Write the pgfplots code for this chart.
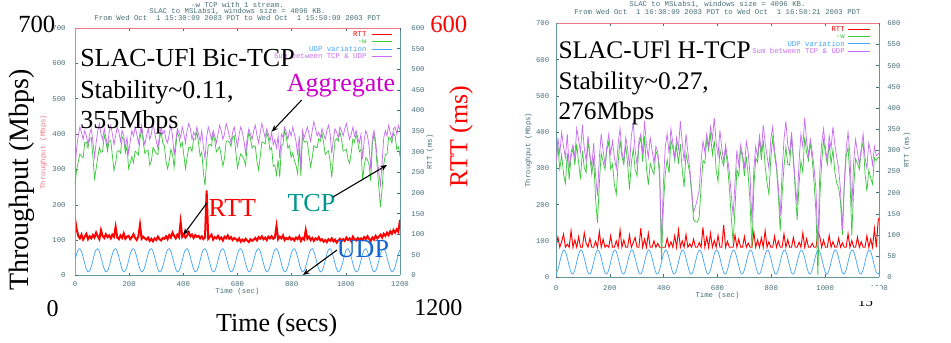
\documentclass[border=0pt]{standalone}
\usepackage{pgfplots}
\pgfplotsset{compat=1.18}
\usepackage{pgfplotstable}
\usepackage{fontspec}
\setmainfont{Liberation Serif}
\newfontfamily\gpmono{Liberation Mono}
\usetikzlibrary{arrows.meta}

\definecolor{gptxt}{RGB}{70,110,118}
\definecolor{gpframe}{RGB}{100,150,160}
\definecolor{gppink}{RGB}{235,120,130}
\definecolor{gpred}{RGB}{255,0,0}
\definecolor{gpgreen}{RGB}{60,200,60}
\definecolor{gpblue}{RGB}{70,165,245}
\definecolor{gpviolet}{RGB}{200,110,240}
\definecolor{annmag}{RGB}{204,0,204}
\definecolor{annteal}{RGB}{0,150,140}
\definecolor{annblue}{RGB}{20,100,210}

\newcommand\pp[2]{({(#1)*0.75pt},{(343-(#2))*0.75pt})}
\newcommand\gpfont{\gpmono\fontsize{5.5}{6}\selectfont}

\pgfplotstableread{
t udp tcp agg rtt
0 43 257 300 138
6 61 299 360 112
12 73 322 395 96
18 76 344 420 90
24 68 337 405 99
30 52 333 385 87
36 34 376 410 94
42 18 377 395 101
48 10 360 370 88
54 13 387 400 95
60 25 390 415 90
66 43 337 380 98
72 61 274 335 92
78 73 302 375 104
84 76 334 410 95
90 68 362 430 88
96 52 348 400 110
102 34 351 385 96
108 18 397 415 91
114 10 380 390 100
120 13 352 365 93
126 25 380 405 97
132 43 382 425 90
138 61 339 400 99
144 73 297 370 94
150 76 319 395 118
156 68 352 420 92
162 52 353 405 88
168 34 346 380 97
174 18 392 410 91
180 10 385 395 102
186 13 347 360 89
192 25 365 390 94
198 43 302 345 96
204 61 319 380 88
210 73 337 410 93
216 76 319 395 100
222 68 352 420 91
228 52 348 400 86
234 34 341 375 95
240 18 387 405 123
246 10 415 425 89
252 13 377 390 94
258 25 345 370 90
264 43 352 395 87
270 61 354 415 92
276 73 312 385 84
282 76 324 400 89
288 68 362 430 83
294 52 353 405 90
300 34 346 380 86
306 18 342 360 94
312 10 385 395 88
318 13 407 420 85
324 25 375 400 91
330 43 367 410 89
336 61 324 385 95
342 73 302 375 88
348 76 324 400 98
354 68 357 425 92
360 52 343 395 104
366 34 306 340 96
372 18 362 380 90
378 10 405 415 99
384 13 392 405 93
390 25 365 390 130
396 43 377 420 94
402 61 339 400 100
408 73 302 375 92
414 76 334 410 97
420 68 362 430 105
426 52 363 415 95
432 34 351 385 99
438 18 387 405 91
444 10 385 395 98
450 13 407 420 94
456 25 375 400 96
462 43 337 380 90
468 61 349 410 95
474 73 292 365 88
480 76 254 330 92
486 68 322 390 206
492 52 368 420 89
498 34 371 405 94
504 18 367 385 99
510 10 400 410 87
516 13 382 395 93
522 25 350 375 90
528 43 357 400 96
534 61 364 425 88
540 73 337 410 92
546 76 309 385 85
552 68 332 400 94
558 52 378 430 90
564 34 381 415 97
570 18 377 395 89
576 10 365 375 93
582 13 392 405 86
588 25 395 420 91
594 43 347 390 88
600 61 304 365 84
606 73 327 400 90
612 76 344 420 82
618 68 337 405 87
624 52 328 380 83
630 34 311 345 89
636 18 372 390 85
642 10 405 415 81
648 13 387 400 88
654 25 360 385 84
660 43 367 410 87
666 61 364 425 91
672 73 322 395 85
678 76 299 375 93
684 68 337 405 89
690 52 378 430 95
696 34 376 410 88
702 18 372 390 92
708 10 405 415 86
714 13 387 400 94
720 25 355 380 90
726 43 362 405 95
732 61 309 370 89
738 73 312 385 92
744 76 284 360 120
750 68 327 395 88
756 52 278 330 94
762 34 366 400 90
768 18 372 390 97
774 10 410 420 86
780 13 392 405 91
786 25 360 385 88
792 43 367 410 93
798 61 334 395 87
804 73 347 420 90
810 76 324 400 85
816 68 312 380 92
822 52 288 340 88
828 34 361 395 95
834 18 282 300 84
840 10 400 410 91
846 13 377 390 87
852 25 380 405 110
858 43 377 420 89
864 61 339 400 94
870 73 307 380 86
876 76 334 410 91
882 68 367 435 84
888 52 363 415 90
894 34 361 395 87
900 18 387 405 93
906 10 380 390 85
912 13 402 415 88
918 25 375 400 82
924 43 342 385 86
930 61 349 410 81
936 73 352 425 88
942 76 324 400 84
948 68 277 345 90
954 52 333 385 83
960 34 381 415 87
966 18 387 405 80
972 10 380 390 85
978 13 407 420 89
984 25 385 410 83
990 43 352 395 88
996 61 354 415 84
1002 73 357 430 92
1008 76 329 405 86
1014 68 317 385 90
1020 52 348 400 83
1026 34 386 420 94
1032 18 377 395 88
1038 10 400 410 85
1044 13 377 390 91
1050 25 350 375 87
1056 43 357 400 90
1062 61 269 330 86
1068 73 312 385 93
1074 76 334 410 88
1080 68 327 395 95
1086 52 313 365 89
1092 34 266 300 84
1098 18 372 390 92
1104 10 400 410 87
1110 13 367 380 96
1116 25 305 330 90
1122 43 247 290 94
1128 61 194 255 99
1134 73 247 320 92
1140 76 314 390 101
1146 68 342 410 96
1152 52 343 395 104
1158 34 391 425 98
1164 18 387 405 107
1170 10 375 385 101
1176 13 402 415 110
1182 25 395 420 104
1188 43 357 400 112
1194 61 364 425 106
1200 73 337 410 135
}\leftdata

\pgfplotstableread{
t udp tcp agg rtt
0 9 301 310 71
7 21 364 385 95
14 42 298 340 71
21 63 337 400 84
28 75 285 360 102
35 71 259 330 71
42 53 342 395 78
49 31 269 300 71
56 13 332 345 110
63 9 356 365 71
70 21 309 330 88
77 42 368 410 71
84 63 317 380 96
91 75 270 345 71
98 71 349 420 71
105 53 302 355 105
112 31 289 320 80
119 13 377 390 71
126 9 331 340 92
133 21 284 305 71
140 42 328 370 71
147 63 217 280 85
154 75 150 225 71
161 71 259 330 108
168 53 342 395 71
175 31 319 350 90
182 13 297 310 71
189 9 351 360 76
196 21 374 395 71
203 42 298 340 98
210 63 312 375 71
217 75 255 330 71
224 71 229 300 86
231 53 317 370 71
238 31 379 410 112
245 13 332 345 71
252 9 311 320 88
259 21 364 385 71
266 42 313 355 71
273 63 242 305 100
280 75 315 390 71
287 71 354 425 82
294 53 297 350 94
301 31 279 310 71
308 13 362 375 71
315 9 386 395 116
322 21 319 340 71
329 42 388 430 90
336 63 302 365 71
343 75 255 330 104
350 71 314 385 71
357 53 297 350 71
364 31 284 315 86
371 13 347 360 71
378 9 336 345 80
385 21 279 300 71
392 42 48 90 71
399 63 197 260 71
406 75 285 360 71
413 71 324 395 92
420 53 287 340 71
427 31 379 410 84
434 13 357 370 71
441 9 321 330 98
448 21 364 385 71
455 42 313 355 112
462 63 367 430 71
469 75 295 370 86
476 71 249 320 71
483 53 342 395 101
490 31 314 345 71
497 13 287 300 79
504 9 231 240 71
511 21 159 180 90
518 42 153 195 71
525 63 152 215 71
532 75 165 240 82
539 71 249 320 71
546 53 322 375 118
553 31 314 345 71
560 13 382 395 95
567 9 351 360 71
574 21 394 415 104
581 42 338 380 71
588 63 377 440 87
595 75 295 370 71
602 71 264 335 99
609 53 352 405 71
616 31 324 355 71
623 13 307 320 124
630 9 356 365 71
637 21 309 330 85
644 42 248 290 71
651 63 167 230 71
658 75 95 170 71
665 71 189 260 100
672 53 297 350 71
679 31 279 310 90
686 13 352 365 71
693 9 331 340 71
700 21 279 300 96
707 42 333 375 71
714 63 282 345 81
721 75 205 280 71
728 71 79 150 71
735 53 247 300 107
742 31 329 360 71
749 13 317 330 88
756 9 381 390 71
763 21 324 345 93
770 42 378 420 71
777 63 307 370 110
784 75 260 335 71
791 71 229 300 84
798 53 327 380 71
805 31 384 415 71
812 13 337 350 97
819 9 301 310 71
826 21 229 250 86
833 42 128 170 71
840 63 227 290 71
847 75 305 380 102
854 71 359 430 71
861 53 312 365 89
868 31 309 340 71
875 13 387 400 71
882 9 321 330 94
889 21 239 260 71
896 42 158 200 71
903 63 257 320 83
910 75 320 395 71
917 71 289 360 105
924 53 387 440 71
931 31 344 375 91
938 13 322 335 71
945 9 371 380 71
952 21 324 345 80
959 42 258 300 71
966 63 177 240 71
973 75 5 80 108
980 71 219 290 96
987 53 317 370 71
994 31 379 410 88
1001 13 342 355 71
1008 9 311 320 71
1015 21 369 390 99
1022 42 313 355 71
1029 63 352 415 84
1036 75 290 365 71
1043 71 259 330 71
1050 53 247 300 92
1057 31 209 240 71
1064 13 117 130 81
1071 9 251 260 71
1078 21 334 355 71
1085 42 358 400 103
1092 63 277 340 71
1099 75 115 190 87
1106 71 249 320 71
1113 53 327 380 71
1120 31 314 345 95
1127 13 297 310 71
1134 9 346 355 84
1141 21 374 395 71
1148 42 288 330 71
1155 63 237 300 98
1162 75 295 370 71
1169 71 274 345 90
1176 53 257 310 71
1183 31 329 360 115
1190 13 322 335 71
1197 9 331 340 135
1200 12 330 342 140
}\rightdata

\pgfplotsset{
  gpbase/.style={
    scale only axis, anchor=south west,
    xmin=0, xmax=1200,
    tick align=inside,
    major tick length=2.2pt,
    tick style={gptxt, line width=0.4pt},
    tick label style={font=\gpfont, text=gptxt},
    /pgf/number format/assume math mode=true,
    /pgf/number format/1000 sep={},
    xtick={0,200,...,1200},
  },
}

\begin{document}
\begin{tikzpicture}
\path[use as bounding box] (0,0) rectangle (713.25pt,257.25pt);

% ================= LEFT CHART =================
% RTT axis (right scale)
\begin{axis}[gpbase, at={(56.25pt,50.625pt)}, width=243.75pt, height=185.625pt,
  ymin=0, ymax=600, ytick={0,50,...,600},
  axis x line*=bottom, axis y line*=right,
  axis line style={gpframe, line width=0.6pt},
  xticklabel style={yshift=-1pt},
  yticklabel style={xshift=5pt},
]
\addplot[gpred, line width=1.5pt] table[x=t,y=rtt]{\leftdata};
\end{axis}
% Throughput axis (left scale)
\begin{axis}[gpbase, at={(56.25pt,50.625pt)}, width=243.75pt, height=185.625pt,
  ymin=0, ymax=700, ytick={0,100,...,700},
  axis x line*=top, axis y line*=left,
  x axis line style={gppink, line width=0.6pt},
  y axis line style={gppink, line width=0.6pt},
  xticklabels={,,,,,,,},
  yticklabel style={xshift=-3.5pt},
]
\addplot[gpgreen, line width=0.55pt] table[x=t,y=tcp]{\leftdata};
\addplot[gpblue, line width=0.55pt, smooth] table[x=t,y=udp]{\leftdata};
\addplot[gpviolet, line width=0.55pt] table[x=t,y=agg]{\leftdata};
\end{axis}

% ================= RIGHT CHART =================
\begin{axis}[gpbase, at={(417pt,49.275pt)}, width=242.25pt, height=190.5pt,
  ymin=0, ymax=600, ytick={0,50,...,600},
  axis x line*=bottom, axis y line*=right,
  axis line style={gpframe, line width=0.6pt},
  xticklabel style={yshift=-2.5pt},
  yticklabel style={xshift=2.7pt},
]
\addplot[gpred, line width=0.7pt] table[x=t,y=rtt]{\rightdata};
\end{axis}
\begin{axis}[gpbase, at={(417pt,49.275pt)}, width=242.25pt, height=190.5pt,
  ymin=0, ymax=700, ytick={0,100,...,700},
  axis x line*=top, axis y line*=left,
  x axis line style={gppink, line width=0.6pt},
  y axis line style={gpframe, line width=0.6pt},
  xticklabels={,,,,,,,},
  yticklabel style={xshift=-1.5pt},
]
\addplot[gpgreen, line width=0.55pt] table[x=t,y=tcp]{\rightdata};
\addplot[gpblue, line width=0.55pt, smooth] table[x=t,y=udp]{\rightdata};
\addplot[gpviolet, line width=0.55pt] table[x=t,y=agg]{\rightdata};
\end{axis}

% ---- gnuplot titles ----
\begin{scope}[every node/.style={inner sep=0, font=\gpfont, text=gptxt}]
\node at \pp{237.5}{5} {-w TCP with 1 stream.};
\node at \pp{237.5}{11.7} {SLAC to MSLabs1, windows size = 4096 KB.};
\node at \pp{237.5}{18.3} {From Wed Oct~~1 15:30:09 2003 PDT to Wed Oct~~1 15:50:09 2003 PDT};
\node at \pp{717.5}{4.5} {SLAC to MSLabs1, windows size = 4096 KB.};
\node at \pp{717.5}{11.7} {From Wed Oct~~1 16:30:09 2003 PDT to Wed Oct~~1 16:50:21 2003 PDT};
% small axis titles
\node[rotate=90, text=gppink] at \pp{43.5}{152} {Throughput (Mbps)};
\node[rotate=90] at \pp{430}{152} {RTT (ms)};
\node at \pp{237.5}{291.7} {Time (sec)};
\node[rotate=90] at \pp{528.5}{150} {Throughput (Mbps)};
\node[rotate=90] at \pp{907}{150} {RTT (ms)};
\node at \pp{717.5}{295.7} {Time (sec)};
% legends
\node[anchor=east, text=gpred] at \pp{366.7}{34.3} {RTT};
\node[anchor=east, text=gpgreen] at \pp{366.7}{41.6} {-w};
\node[anchor=east, text=gpblue] at \pp{366.7}{49} {UDP variation};
\node[anchor=east, text=gpviolet] at \pp{366.7}{56.3} {Sum between TCP \& UDP};
\node[anchor=east, text=gpred] at \pp{845}{29} {RTT};
\node[anchor=east, text=gpgreen] at \pp{845}{36.3} {-w};
\node[anchor=east, text=gpblue] at \pp{845}{43.6} {UDP variation};
\node[anchor=east, text=gpviolet] at \pp{845}{50.9} {Sum between TCP \& UDP};
\end{scope}
\draw[gpred, line width=0.5pt] \pp{371.7}{34.3} -- \pp{391.7}{34.3};
\draw[gpgreen, line width=0.5pt] \pp{371.7}{41.6} -- \pp{391.7}{41.6};
\draw[gpblue, line width=0.5pt] \pp{371.7}{49} -- \pp{391.7}{49};
\draw[gpviolet, line width=0.5pt] \pp{371.7}{56.3} -- \pp{391.7}{56.3};
\draw[gpred, line width=0.5pt] \pp{848}{29} -- \pp{870}{29};
\draw[gpgreen, line width=0.5pt] \pp{848}{36.3} -- \pp{870}{36.3};
\draw[gpblue, line width=0.5pt] \pp{848}{43.6} -- \pp{870}{43.6};
\draw[gpviolet, line width=0.5pt] \pp{848}{50.9} -- \pp{870}{50.9};

% ---- slide annotations ----
\begin{scope}[every node/.style={inner sep=0}]
\node[anchor=base west, font=\fontsize{18.5}{20}\selectfont] at \pp{18}{33} {700};
\node[anchor=base west, font=\fontsize{18.5}{20}\selectfont, text=gpred] at \pp{430}{33} {600};
\node[rotate=90, font=\fontsize{21}{22}\selectfont] at \pp{21.5}{180} {Throughput (Mbps)};
\node[rotate=90, font=\fontsize{19.5}{21}\selectfont, text=gpred] at \pp{461}{136.5} {RTT (ms)};
\node[anchor=base, font=\fontsize{18}{20}\selectfont] at \pp{52.5}{317} {0};
\node[anchor=base, font=\fontsize{18}{20}\selectfont] at \pp{438.3}{316} {1200};
\node[anchor=base, font=\fontsize{19.5}{21}\selectfont] at \pp{276.7}{331.7} {Time (secs)};
\node[anchor=base west, font=\fontsize{19.5}{21}\selectfont] at \pp{80}{66.7} {SLAC-UFl Bic-TCP};
\node[anchor=base west, font=\fontsize{19.5}{21}\selectfont] at \pp{80}{99} {Stability\textasciitilde0.11,};
\node[anchor=base west, font=\fontsize{19.5}{21}\selectfont] at \pp{80}{129} {355Mbps};
\node[anchor=base west, font=\fontsize{19.5}{21}\selectfont, text=annmag] at \pp{286.7}{91.7} {Aggregate};
\node[anchor=base west, font=\fontsize{19.5}{21}\selectfont, text=gpred] at \pp{208.3}{216.7} {RTT};
\node[anchor=base west, font=\fontsize{19.5}{21}\selectfont, text=annteal] at \pp{287.3}{211.7} {TCP};
\node[anchor=base west, font=\fontsize{19.5}{21}\selectfont, text=annblue] at \pp{336.7}{257.3} {UDP};
\node[anchor=base west, font=\fontsize{19}{21}\selectfont] at \pp{558.3}{58.3} {SLAC-UFl H-TCP};
\node[anchor=base west, font=\fontsize{19}{21}\selectfont] at \pp{558.3}{90} {Stability\textasciitilde0.27,};
\node[anchor=base west, font=\fontsize{19}{21}\selectfont] at \pp{558.3}{120} {276Mbps};
\node[anchor=base, font=\fontsize{11}{12}\selectfont] at \pp{865.5}{307} {15};
\end{scope}
\fill[white] \pp{850}{286} rectangle \pp{882}{301};

\begin{scope}[-{Stealth[length=5pt,width=4pt]}, line width=0.8pt]
\draw \pp{301.7}{100} -- \pp{271.7}{131.7};
\draw \pp{206.7}{203.3} -- \pp{183.3}{235};
\draw \pp{333}{197} -- \pp{387}{165};
\draw \pp{337}{250} -- \pp{303}{275};
\end{scope}
\end{tikzpicture}
\end{document}
